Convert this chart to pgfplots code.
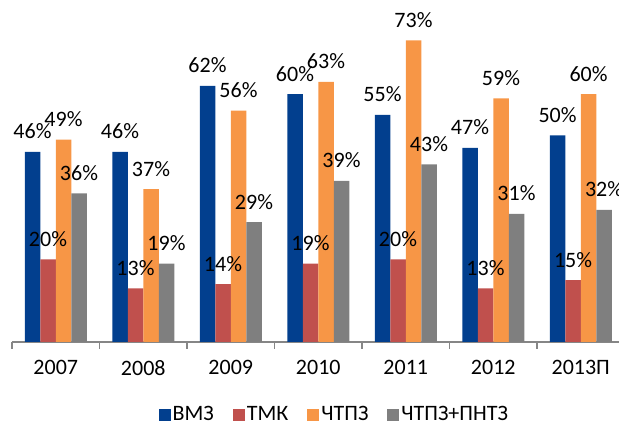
\documentclass[border=0pt]{standalone}
\usepackage{pgfplots}
\pgfplotsset{compat=1.18}
\usepackage{fontspec}
\setmainfont{Carlito}
\definecolor{cvmz}{HTML}{023F8E}
\definecolor{ctmk}{HTML}{C0504D}
\definecolor{cchtpz}{HTML}{F79646}
\definecolor{cpntz}{HTML}{7F7F7F}
\definecolor{axgray}{HTML}{868686}
\begin{document}
\begin{tikzpicture}
\path[use as bounding box] (0,0) rectangle (619pt,423pt);
\begin{axis}[
  at={(12pt,81pt)}, anchor=south west,
  scale only axis, width=607pt, height=342pt,
  xmin=-0.5, xmax=6.437, ymin=0, ymax=82.8,
  ybar=0pt, bar width=15.5pt,
  clip=false,
  axis x line*=bottom, axis y line=none,
  axis line style={draw=axgray, line width=1.6pt},
  xtick={0,1,2,3,4,5,6},
  xticklabels={2007,2008,2009,2010,2011,2012,2013П},
  major tick length=0pt,
  minor xtick={-0.5,0.5,1.5,2.5,3.5,4.5,5.5},
  minor tick length=7pt, tick align=outside,
  minor tick style={draw=axgray, line width=1.6pt},
  ytick=\empty,
  xticklabel style={font=\fontsize{22}{26}\selectfont, yshift=-15pt},
  /pgf/number format/assume math mode=true,
  nodes near coords={\pgfmathprintnumber{\pgfplotspointmeta}\%},
  nodes near coords style={font=\fontsize{22}{26}\selectfont, anchor=base, yshift=13pt, text=black},
  legend style={at={(0.531,-0.212)}, anchor=center, draw=none, legend columns=4,
    font=\fontsize{22}{26}\selectfont,
    /tikz/every even column/.append style={column sep=17pt},
    inner sep=0pt},
  legend image code/.code={\fill[#1,draw=none] (0pt,-6pt) rectangle (12pt,6pt);},
]
\addplot[fill=cvmz, draw=none] coordinates {(0,46) (1,46) (2,62) (3,60) (4,55) (5,47) (6,50)};
\addplot[fill=ctmk, draw=none] coordinates {(0,20) (1,13) (2,14) (3,19) (4,20) (5,13) (6,15)};
\addplot[fill=cchtpz, draw=none] coordinates {(0,49) (1,37) (2,56) (3,63) (4,73) (5,59) (6,60)};
\addplot[fill=cpntz, draw=none] coordinates {(0,36) (1,19) (2,29) (3,39) (4,43) (5,31) (6,32)};
\legend{ВМЗ, ТМК, ЧТПЗ, ЧТПЗ+ПНТЗ}
\end{axis}
\end{tikzpicture}
\end{document}
